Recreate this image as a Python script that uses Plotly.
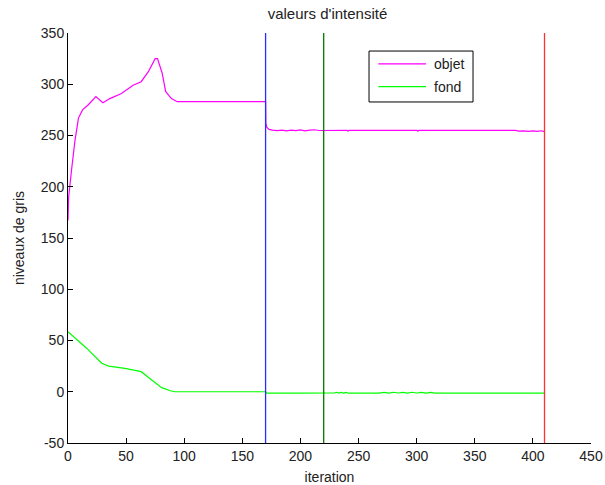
import plotly.graph_objects as go

# ---- data ----
objet_x = [0, 0.5, 3, 6, 9, 12.5, 17.5, 24, 30, 36, 46, 56, 63, 69, 75, 77, 81, 84, 89, 94, 170,
           170.2, 171, 173, 176, 180, 184, 188, 192, 196, 200, 204, 208, 212, 216, 220,
           240, 241, 242, 300, 301, 302, 320, 321, 322, 385, 388, 392, 396, 400, 404, 407, 410]
objet_y = [167, 189, 216, 245, 267, 275, 280, 288, 282, 286, 291, 299, 302.5, 312, 325, 325, 311, 293, 286, 283, 283,
           262, 258, 256, 255.3, 254.7, 255.2, 254.6, 255.3, 254.8, 255.4, 254.6, 255.2, 255.6, 254.9, 255,
           255, 254.3, 255, 255, 254.3, 255, 255, 254.4, 255, 255, 254.2, 254.6, 254.1, 254.5, 254.0, 254.6, 253.8]

fond_x = [0, 16, 29, 35, 49, 63, 72, 80.6, 88, 92, 170,
          171, 200, 225, 227, 229, 231, 233, 235, 237, 239, 241, 268, 272, 276, 280, 284, 288,
          292, 296, 300, 304, 308, 312, 316, 320, 348, 352, 356, 360, 364, 368, 372, 410]
fond_y = [58.6, 42.5, 27.8, 25, 22.8, 19.6, 11.5, 4, 1, 0, 0,
          -1.3, -1.3, -1.3, -0.6, -1.2, -0.5, -1.3, -0.7, -1.3, -0.6, -1.3, -1.3, -0.6, -1.3, -0.5, -1.2, -0.6,
          -1.3, -0.5, -1.2, -0.7, -1.3, -0.6, -1.3, -1.3, -1.3, -0.6, -1.2, -0.7, -1.3, -0.6, -1.3, -1.3]

vlines_x = [170, 220, 410]
vlines_colors = ["#2a2aff", "#007a00", "#ff3030"]

x_ticks = [0, 50, 100, 150, 200, 250, 300, 350, 400, 450]
y_ticks = [-50, 0, 50, 100, 150, 200, 250, 300, 350]

title_text = "valeurs d'intensité"
x_title = "iteration"
y_title = "niveaux de gris"
series_names = ["objet", "fond"]
series_colors = ["#ff00ff", "#00ff00"]

FONT = "Liberation Sans, Arial, sans-serif"
TXT = "#222222"

fig = go.Figure()
fig.add_trace(go.Scatter(x=objet_x, y=objet_y, mode="lines", name=series_names[0],
                         line=dict(color=series_colors[0], width=1.2), showlegend=False))
fig.add_trace(go.Scatter(x=fond_x, y=fond_y, mode="lines", name=series_names[1],
                         line=dict(color=series_colors[1], width=1.2), showlegend=False))

for vx, vc in zip(vlines_x, vlines_colors):
    fig.add_trace(go.Scatter(x=[vx, vx], y=[y_ticks[0], y_ticks[-1]], mode="lines",
                             line=dict(color=vc, width=1.3), showlegend=False, hoverinfo="skip"))

# manual legend box (MATLAB style)
fig.add_shape(type="rect", xref="x", yref="y", x0=259, x1=348.5, y0=282.7, y1=332.4,
              line=dict(color="black", width=1), fillcolor="white", layer="above")
leg_rows_y = [319.8, 297.6]
for name, col, ly in zip(series_names, series_colors, leg_rows_y):
    fig.add_shape(type="line", xref="x", yref="y", x0=267, x1=308, y0=ly, y1=ly,
                  line=dict(color=col, width=1.2), layer="above")
    fig.add_annotation(x=313.5, y=ly, xref="x", yref="y", text=name, showarrow=False,
                       xanchor="left", yanchor="middle",
                       font=dict(family=FONT, size=14, color=TXT))

fig.update_layout(
    width=605, height=485,
    margin=dict(l=68, r=14, t=33, b=42),
    paper_bgcolor="white", plot_bgcolor="white",
    font=dict(family=FONT, size=14, color=TXT),
    title=dict(text=title_text, x=0.5413, xanchor="center", y=0.971, yanchor="middle",
               font=dict(family=FONT, size=15, color=TXT)),
    showlegend=False,
)
fig.update_xaxes(range=[0, 450], tickvals=x_ticks, ticktext=[str(v) for v in x_ticks],
                 showgrid=False, zeroline=False, showline=True, linecolor="black", linewidth=1,
                 ticks="inside", ticklen=5, tickcolor="black", automargin=False,
                 title=dict(text=x_title, standoff=10, font=dict(family=FONT, size=14, color=TXT)))
fig.update_yaxes(range=[-50, 350], tickvals=y_ticks, ticktext=[str(v) for v in y_ticks],
                 showgrid=False, zeroline=False, showline=True, linecolor="black", linewidth=1,
                 ticks="inside", ticklen=5, tickcolor="black", automargin=False,
                 title=dict(text=y_title, standoff=12, font=dict(family=FONT, size=14, color=TXT)))

fig.write_html("out.html", config={"displayModeBar": False},
               post_script="document.body.style.margin='0';")
